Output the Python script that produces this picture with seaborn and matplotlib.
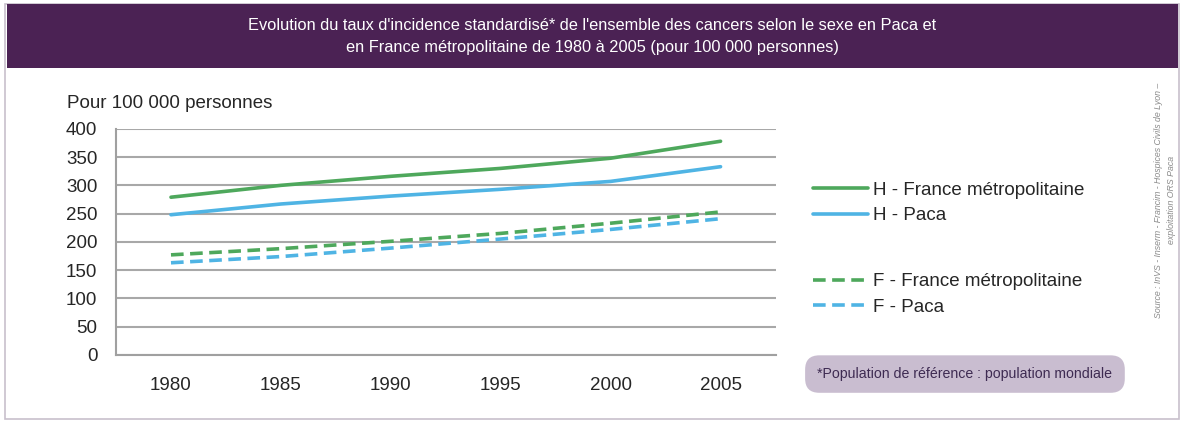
import numpy as np
import pandas as pd
import seaborn as sns
import matplotlib.pyplot as plt
from matplotlib.patches import FancyBboxPatch, Rectangle
from matplotlib.lines import Line2D

# values (per 100 000 persons)
annees = ['1980', '1985', '1990', '1995', '2000', '2005']
h_france = [279, 300, 316, 330, 348, 378]
h_paca = [248, 267, 281, 293, 307, 333]
f_france = [177, 188, 201, 215, 233, 253]
f_paca = [163, 174, 189, 205, 222, 241]
series = ['H - France métropolitaine', 'H - Paca', 'F - France métropolitaine', 'F - Paca']

green = '#4EA85C'
blue = '#4FB4E4'
purple = '#4B2254'
narrow = ['Liberation Sans Narrow', 'Liberation Sans', 'DejaVu Sans']

df = pd.DataFrame({
    'pos': list(range(len(annees))) * 4,
    'val': h_france + h_paca + f_france + f_paca,
    'serie': np.repeat(series, len(annees)),
})

sns.set_style('white')
plt.rcParams['font.family'] = ['Liberation Sans', 'DejaVu Sans']

fig = plt.figure(figsize=(11.84, 4.21), dpi=100)
ax = fig.add_axes([0.098, 0.157, 0.557, 0.537])

pal = {series[0]: green, series[1]: blue, series[2]: green, series[3]: blue}
dash = {series[0]: '', series[1]: '', series[2]: (3.5, 1.8), series[3]: (3.5, 1.8)}
sns.lineplot(data=df, x='pos', y='val', hue='serie', style='serie', palette=pal,
             dashes=dash, linewidth=2.6, legend=False, ax=ax)

ax.set_xlim(-0.5, 5.5)
ax.set_ylim(0, 400)
ax.set_yticks(range(0, 401, 50))
ax.set_xticks(range(len(annees)))
ax.set_xticklabels(annees, fontsize=13.5)
ax.set_xticks(np.arange(-0.5, 6, 1), minor=True)
ax.tick_params(axis='x', which='major', length=0, pad=16)
ax.tick_params(axis='x', which='minor', length=4.5, color='#A0A0A0', width=1.2, direction='out')
ax.tick_params(axis='y', length=4.5, color='#A0A0A0', width=1.2, direction='out', labelsize=13.5, pad=9)
ax.grid(axis='y', color='#A8A8A8', linewidth=1.5)
ax.set_axisbelow(True)
for s in ['top', 'right']:
    ax.spines[s].set_visible(False)
for s in ['left', 'bottom']:
    ax.spines[s].set_color('#A0A0A0')
    ax.spines[s].set_linewidth(1.5)
ax.set_xlabel('')
ax.set_ylabel('')
fig.text(67 / 1184, 1 - 103 / 421, 'Pour 100 000 personnes', fontsize=13.5, va='center', ha='left')

# legends (two groups)
h1 = [Line2D([], [], color=green, lw=2.6), Line2D([], [], color=blue, lw=2.6)]
h2 = [Line2D([], [], color=green, lw=2.6, dashes=(3.5, 1.8)),
      Line2D([], [], color=blue, lw=2.6, dashes=(3.5, 1.8))]
kw = dict(loc='upper left', frameon=False, fontsize=13.5, handlelength=2.9,
          handletextpad=0.27, labelspacing=0.44, borderpad=0)
fig.legend(h1, series[:2], bbox_to_anchor=(0.679, 0.591), **kw)
fig.legend(h2, series[2:], bbox_to_anchor=(0.679, 0.373), **kw)

# title banner and frame
fig.patches.append(Rectangle((0.004, 0.005), 0.992, 0.985, transform=fig.transFigure,
                             facecolor='none', edgecolor='#C8C0CC', lw=1.2))
fig.patches.append(Rectangle((0.006, 0.838), 0.989, 0.152, transform=fig.transFigure,
                             facecolor=purple, edgecolor='none'))
fig.text(0.5, 0.914, "Evolution du taux d'incidence standardisé* de l'ensemble des cancers selon le sexe en Paca et\n"
         "en France métropolitaine de 1980 à 2005 (pour 100 000 personnes)",
         ha='center', va='center', color='white', fontsize=11.8, linespacing=1.6, family=narrow)

# footnote box
fig.patches.append(FancyBboxPatch((0.680, 0.067), 0.270, 0.089, transform=fig.transFigure,
                                  boxstyle='round,pad=0,rounding_size=0.012',
                                  facecolor='#C9BDD0', edgecolor='none', mutation_aspect=2.8))
fig.text(0.815, 0.112, '*Population de référence : population mondiale', ha='center', va='center',
         fontsize=10.2, color='#3E2B52', family=narrow)

# source
fig.text(0.984, 0.525, 'Source : InVS - Inserm - Francim - Hospices Civils de Lyon –\nexploitation ORS Paca',
         rotation=90, ha='center', va='center', fontsize=6.3, color='#8A8A8A', style='italic',
         linespacing=1.5, family=narrow)

fig.savefig('out.png', dpi=100)
